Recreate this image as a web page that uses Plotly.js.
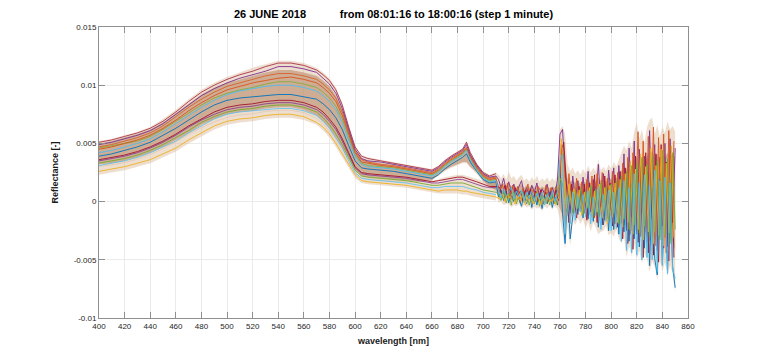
<!DOCTYPE html>
<html><head><meta charset="utf-8">
<script src="https://cdn.plot.ly/plotly-3.0.1.min.js"></script>
<style>html,body{margin:0;padding:0;background:#fff;}#chart{width:761px;height:358px;}</style>
</head><body><div id="chart"></div>
<script>
// wavelength grids [nm]
const wlSmooth = [400,410,420,430,440,450,460,470,480,490,500,510,520,530,540,550,560,570,575,580,585,590,595,600,605,610,620,630,640,650,660,665,670,675,680,684,687,690,695,700,705,710];
const wlNoisy = [712,714,716,718,720,722,724,726,728,730,732,734,736,738,740,742,744,746,748,750,752,754,756,758,760,762,764,766,768,770,772,774,776,778,780,782,784,786,788,790,792,794,796,798,800,802,804,806,808,810,812,814,816,818,820,822,824,826,828,830,832,834,836,838,840,842,844,846,848,850];
const wlNoisyOdd = [713,715,717,719,721,723,725,727,729,731,733,735,737,739,741,743,745,747,749,751,753,755,757,759,761,763,765,767,769,771,773,775,777,779,781,783,785,787,789,791,793,795,797,799,801,803,805,807,809,811,813,815,817,819,821,823,825,827,829,831,833,835,837,839,841,843,845,847,849];

// envelope of the whole family of spectra (smooth part)
const upperSmooth = [0.0052,0.0054,0.0057,0.0060,0.0064,0.0071,0.0079,0.0088,0.0096,0.0102,0.0107,0.0111,0.0115,0.0118,0.0121,0.0121,0.0119,0.0115,0.0111,0.0106,0.0098,0.0085,0.0066,0.0048,0.0040,0.0038,0.0036,0.0034,0.0032,0.0030,0.0028,0.0031,0.0036,0.0040,0.0043,0.0046,0.0052,0.0043,0.0033,0.0026,0.0023,0.0025];
const peakGroupLower = [0.0030,0.0031,0.0033,0.0036,0.0040,0.0045,0.0051,0.0057,0.0063,0.0068,0.0072,0.0074,0.0075,0.0077,0.0078,0.0078,0.0076,0.0071,0.0066,0.0060,0.0052,0.0043,0.0033,0.0024,0.0020,0.0019,0.0018,0.0017,0.0016,0.0017,0.0019,0.0022,0.0026,0.0029,0.0031,0.0033,0.0033,0.0029,0.0024,0.0017,0.0012,0.0009];
const lowGroupUpper = [0.0031,0.0032,0.0034,0.0037,0.0041,0.0046,0.0052,0.0058,0.0064,0.0069,0.0073,0.0075,0.0076,0.0078,0.0079,0.0079,0.0077,0.0072,0.0067,0.0061,0.0053,0.0044,0.0034,0.0025,0.0021,0.0021,0.0020,0.0020,0.0019,0.0018,0.0018,0.0019,0.0021,0.0022,0.0023,0.0023,0.0022,0.0021,0.0019,0.0018,0.0017,0.0017];
const lowerSmooth = [0.0023,0.0025,0.0027,0.0030,0.0033,0.0038,0.0043,0.0050,0.0056,0.0062,0.0066,0.0068,0.0069,0.0071,0.0072,0.0072,0.0070,0.0066,0.0061,0.0055,0.0047,0.0038,0.0029,0.0020,0.0016,0.0015,0.0014,0.0013,0.0012,0.0010,0.0008,0.0007,0.0007,0.0007,0.0007,0.0006,0.0006,0.0005,0.0004,0.0003,0.0002,0.0001];
const coreUpperSmooth = [0.0050,0.0052,0.0055,0.0058,0.0062,0.0068,0.0076,0.0084,0.0092,0.0098,0.0102,0.0105,0.0108,0.0111,0.0113,0.0113,0.0111,0.0108,0.0104,0.0099,0.0091,0.0079,0.0062,0.0045,0.0037,0.0035,0.0033,0.0031,0.0029,0.0027,0.0025,0.0028,0.0033,0.0037,0.0040,0.0043,0.0046,0.0040,0.0031,0.0024,0.0021,0.0022];
const coreLowerSmooth = [0.0032,0.0033,0.0035,0.0038,0.0042,0.0047,0.0053,0.0059,0.0066,0.0071,0.0075,0.0077,0.0078,0.0080,0.0081,0.0081,0.0079,0.0074,0.0069,0.0063,0.0055,0.0046,0.0036,0.0027,0.0022,0.0021,0.0020,0.0019,0.0018,0.0017,0.0018,0.0023,0.0027,0.0030,0.0032,0.0034,0.0034,0.0030,0.0025,0.0018,0.0013,0.0010];

// envelope of the noisy part (>710 nm)
const upperNoisy = [2.3e-3,2.0e-3,2.4e-3,1.9e-3,2.6e-3,2.0e-3,2.2e-3,1.8e-3,2.1e-3,2.3e-3, 1.8e-3,2.0e-3,1.7e-3,2.1e-3,1.8e-3,2.2e-3,1.7e-3,2.0e-3,1.8e-3,2.1e-3, 1.7e-3,2.0e-3,1.8e-3,2.2e-3,6.2e-3,6.5e-3,5.8e-3,3.2e-3,2.6e-3,2.9e-3, 2.4e-3,2.7e-3,2.3e-3,2.8e-3,2.4e-3,3.1e-3,2.5e-3,2.9e-3,2.6e-3,3.6e-3, 2.7e-3,3.0e-3,2.6e-3,3.2e-3,2.8e-3,3.4e-3,3.0e-3,3.6e-3,4.2e-3,4.8e-3, 4.4e-3,5.2e-3,4.6e-3,6.0e-3,6.8e-3,5.4e-3,6.2e-3,5.0e-3,6.4e-3,7.0e-3, 7.2e-3,5.8e-3,6.6e-3,5.6e-3,6.4e-3,5.9e-3,6.9e-3,6.2e-3,6.5e-3,6.0e-3];
const lowerNoisy = [-0.1e-3,0,-0.3e-3,-0.2e-3,-0.2e-3,-0.5e-3,-0.3e-3,-0.4e-3,-0.2e-3,-0.6e-3, -0.3e-3,-0.5e-3,-0.4e-3,-0.7e-3,-0.4e-3,-0.6e-3,-0.5e-3,-0.8e-3,-0.4e-3,-0.6e-3, -0.3e-3,-0.7e-3,-0.4e-3,-0.6e-3,-1.5e-3,-2.6e-3,-4.0e-3,-2.2e-3,-3.8e-3,-1.6e-3, -2.0e-3,-1.4e-3,-1.9e-3,-1.5e-3,-2.3e-3,-1.7e-3,-2.6e-3,-1.8e-3,-2.2e-3,-2.8e-3, -2.6e-3,-2.5e-3,-2.1e-3,-2.9e-3,-2.7e-3,-3.0e-3,-2.4e-3,-3.2e-3,-3.6e-3,-3.0e-3, -4.8e-3,-3.8e-3,-4.7e-3,-3.6e-3,-4.9e-3,-4.2e-3,-5.3e-3,-4.4e-3,-5.0e-3,-6.0e-3, -5.1e-3,-5.6e-3,-6.7e-3,-5.0e-3,-6.0e-3,-5.2e-3,-6.4e-3,-5.5e-3,-6.2e-3,-7.8e-3];
const coreUpperNoisy = [1.5e-3,1.3e-3,1.6e-3,1.3e-3,1.6e-3,1.3e-3,1.5e-3,1.2e-3,1.4e-3,1.5e-3, 1.2e-3,1.4e-3,1.2e-3,1.4e-3,1.2e-3,1.4e-3,1.1e-3,1.3e-3,1.2e-3,1.4e-3, 1.1e-3,1.3e-3,1.2e-3,1.5e-3,4.0e-3,4.5e-3,3.2e-3,1.9e-3,1.7e-3,1.8e-3, 1.6e-3,1.8e-3,1.5e-3,1.8e-3,1.6e-3,1.9e-3,1.6e-3,1.9e-3,1.7e-3,2.1e-3, 1.8e-3,2.0e-3,1.7e-3,2.1e-3,1.9e-3,2.2e-3,2.0e-3,2.3e-3,2.6e-3,2.9e-3, 2.8e-3,3.2e-3,3.0e-3,3.6e-3,3.9e-3,3.4e-3,3.8e-3,3.3e-3,3.9e-3,4.2e-3, 4.3e-3,3.7e-3,4.1e-3,3.6e-3,4.0e-3,3.8e-3,4.2e-3,3.9e-3,4.0e-3,3.8e-3];
const coreLowerNoisy = [0.3e-3,0.4e-3,0.2e-3,0.4e-3,0.2e-3,0.1e-3,0.3e-3,0.1e-3,0.2e-3,0, 0.2e-3,0,0.2e-3,-0.1e-3,0.1e-3,-0.1e-3,0.1e-3,-0.2e-3,0,-0.1e-3, 0.1e-3,-0.2e-3,0,-0.1e-3,-0.6e-3,-1.2e-3,-2.0e-3,-1.2e-3,-1.6e-3,-0.8e-3, -1.0e-3,-0.7e-3,-0.9e-3,-0.8e-3,-1.1e-3,-0.9e-3,-1.3e-3,-1.0e-3,-1.1e-3,-1.4e-3, -1.1e-3,-1.3e-3,-1.1e-3,-1.5e-3,-1.2e-3,-1.6e-3,-1.3e-3,-1.7e-3,-1.9e-3,-1.7e-3, -2.6e-3,-2.1e-3,-2.6e-3,-2.1e-3,-2.8e-3,-2.4e-3,-3.0e-3,-2.5e-3,-2.9e-3,-3.4e-3, -3.0e-3,-3.2e-3,-3.7e-3,-3.0e-3,-3.4e-3,-3.0e-3,-3.6e-3,-3.2e-3,-3.5e-3,-4.2e-3];

// representative individual spectra (smooth part)
const specA_s = [0.0049,0.0051,0.0054,0.0057,0.0061,0.0067,0.0075,0.0083,0.0091,0.0097,0.0102,0.0106,0.0109,0.0112,0.0116,0.0116,0.0114,0.0111,0.0106,0.0101,0.0093,0.0080,0.0062,0.0045,0.0037,0.0035,0.0034,0.0032,0.0030,0.0028,0.0026,0.0029,0.0034,0.0038,0.0041,0.0044,0.0049,0.0040,0.0031,0.0024,0.0021,0.0022];
const specB_s = [0.0045,0.0047,0.0050,0.0053,0.0057,0.0063,0.0070,0.0078,0.0085,0.0091,0.0096,0.0099,0.0102,0.0104,0.0106,0.0107,0.0105,0.0102,0.0098,0.0093,0.0086,0.0074,0.0058,0.0042,0.0034,0.0033,0.0031,0.0030,0.0028,0.0026,0.0024,0.0027,0.0032,0.0036,0.0039,0.0042,0.0046,0.0038,0.0029,0.0022,0.0019,0.0020];
const specC_s = [0.0039,0.0041,0.0044,0.0047,0.0051,0.0057,0.0063,0.0070,0.0077,0.0083,0.0087,0.0089,0.0090,0.0091,0.0092,0.0092,0.0090,0.0088,0.0084,0.0079,0.0072,0.0062,0.0048,0.0035,0.0029,0.0028,0.0027,0.0026,0.0024,0.0022,0.0020,0.0023,0.0028,0.0032,0.0035,0.0038,0.0041,0.0034,0.0026,0.0019,0.0016,0.0017];
const specD_s = [0.0036,0.0038,0.0040,0.0043,0.0047,0.0052,0.0058,0.0065,0.0071,0.0077,0.0081,0.0083,0.0084,0.0086,0.0087,0.0087,0.0085,0.0081,0.0077,0.0071,0.0064,0.0054,0.0042,0.0030,0.0025,0.0024,0.0023,0.0022,0.0021,0.0019,0.0017,0.0018,0.0019,0.0020,0.0021,0.0021,0.0020,0.0019,0.0017,0.0015,0.0013,0.0013];
const specE_s = [0.0033,0.0035,0.0037,0.0040,0.0044,0.0049,0.0055,0.0061,0.0068,0.0073,0.0077,0.0079,0.0080,0.0082,0.0083,0.0083,0.0081,0.0077,0.0072,0.0066,0.0058,0.0049,0.0038,0.0027,0.0022,0.0021,0.0020,0.0019,0.0018,0.0016,0.0014,0.0014,0.0015,0.0016,0.0016,0.0016,0.0015,0.0014,0.0012,0.0010,0.0009,0.0008];
const specF_s = [0.0026,0.0028,0.0030,0.0033,0.0036,0.0041,0.0046,0.0053,0.0059,0.0065,0.0069,0.0071,0.0072,0.0074,0.0075,0.0075,0.0073,0.0068,0.0064,0.0058,0.0050,0.0041,0.0032,0.0023,0.0018,0.0017,0.0016,0.0015,0.0014,0.0012,0.0010,0.0009,0.0010,0.0010,0.0010,0.0009,0.0009,0.0008,0.0007,0.0006,0.0005,0.0004];
const specG_s = [0.0042,0.0044,0.0047,0.0050,0.0054,0.0060,0.0067,0.0074,0.0081,0.0087,0.0092,0.0095,0.0097,0.0099,0.0100,0.0100,0.0098,0.0095,0.0091,0.0086,0.0079,0.0068,0.0053,0.0039,0.0032,0.0030,0.0029,0.0028,0.0026,0.0024,0.0022,0.0025,0.0030,0.0034,0.0037,0.0040,0.0044,0.0036,0.0027,0.0020,0.0017,0.0018];
// more spectra, visible only up to 710 nm
const specH_s = [0.0047,0.0049,0.0052,0.0055,0.0059,0.0065,0.0073,0.0081,0.0088,0.0094,0.0099,0.0102,0.0105,0.0108,0.0110,0.0110,0.0108,0.0105,0.0101,0.0096,0.0089,0.0077,0.0060,0.0043,0.0036,0.0034,0.0032,0.0031,0.0029,0.0027,0.0025,0.0028,0.0033,0.0037,0.0040,0.0043,0.0047,0.0039,0.0030,0.0023,0.0020,0.0021];
const specI_s = [0.0046,0.0048,0.0050,0.0052,0.0056,0.0062,0.0069,0.0076,0.0083,0.0089,0.0093,0.0096,0.0098,0.0101,0.0103,0.0103,0.0101,0.0098,0.0094,0.0089,0.0082,0.0071,0.0055,0.0040,0.0033,0.0031,0.0030,0.0029,0.0027,0.0025,0.0023,0.0026,0.0031,0.0035,0.0038,0.0041,0.0045,0.0037,0.0028,0.0021,0.0018,0.0019];
const specJ_s = [0.0035,0.0037,0.0039,0.0042,0.0046,0.0051,0.0057,0.0064,0.0070,0.0075,0.0079,0.0081,0.0082,0.0084,0.0085,0.0085,0.0083,0.0079,0.0075,0.0069,0.0062,0.0052,0.0040,0.0029,0.0024,0.0023,0.0022,0.0021,0.0020,0.0018,0.0016,0.0016,0.0017,0.0018,0.0019,0.0019,0.0018,0.0017,0.0015,0.0013,0.0012,0.0012];
const specK_s = [0.0031,0.0033,0.0035,0.0038,0.0042,0.0047,0.0052,0.0059,0.0065,0.0071,0.0075,0.0077,0.0078,0.0079,0.0080,0.0080,0.0078,0.0074,0.0069,0.0063,0.0055,0.0046,0.0035,0.0025,0.0020,0.0019,0.0018,0.0017,0.0016,0.0014,0.0012,0.0012,0.0013,0.0013,0.0013,0.0013,0.0012,0.0011,0.0010,0.0008,0.0007,0.0006];
const specL_s = [0.0051,0.0053,0.0056,0.0059,0.0063,0.0069,0.0077,0.0086,0.0094,0.0100,0.0105,0.0109,0.0112,0.0116,0.0119,0.0119,0.0117,0.0113,0.0109,0.0104,0.0096,0.0083,0.0064,0.0047,0.0039,0.0037,0.0035,0.0033,0.0031,0.0029,0.0027,0.0030,0.0035,0.0039,0.0042,0.0045,0.0051,0.0042,0.0032,0.0025,0.0022,0.0024];

// noisy part of the spectra A..G (A, C, E, G on even nm; B, D, F on odd nm)
const specA_n = [1.9e-3,1.2e-3,2.0e-3,1.0e-3,1.7e-3,0.9e-3,1.5e-3,0.6e-3,1.3e-3,1.8e-3, 0.7e-3,1.2e-3,0.5e-3,1.4e-3,0.8e-3,1.6e-3,0.4e-3,1.1e-3,0.7e-3,1.5e-3, 0.3e-3,1.2e-3,0.6e-3,1.8e-3,5.8e-3,6.2e-3,2.5e-3,0.8e-3,-1.0e-3,2.2e-3, 0.1e-3,1.8e-3,-0.6e-3,2.1e-3,0.3e-3,2.6e-3,-0.9e-3,1.9e-3,0.2e-3,3.2e-3, -0.4e-3,2.4e-3,-1.2e-3,2.7e-3,0.5e-3,2.9e-3,-1.0e-3,3.1e-3,-0.8e-3,4.1e-3, -2.5e-3,4.6e-3,-1.3e-3,5.2e-3,-2.8e-3,4.5e-3,-1.0e-3,3.9e-3,-3.5e-3,6.1e-3, -0.8e-3,4.9e-3,-4.2e-3,3.8e-3,-2.1e-3,5.0e-3,-3.9e-3,5.4e-3,-1.8e-3,4.6e-3];
const specB_n = [0.8e-3,1.5e-3,0.4e-3,1.6e-3,0.2e-3,1.4e-3,0.5e-3,1.3e-3,-0.1e-3,1.1e-3, 0.6e-3,1.5e-3,0,1.0e-3,0.4e-3,1.3e-3,0.9e-3,-0.2e-3,1.4e-3,0.3e-3, 1.2e-3,-0.1e-3,1.3e-3,0.4e-3,4.9e-3,3.8e-3,-1.5e-3,2.4e-3,0.4e-3,-0.5e-3, 2.0e-3,-0.3e-3,1.7e-3,-1.0e-3,1.9e-3,-0.2e-3,2.2e-3,-1.4e-3,2.4e-3,-0.5e-3, 2.5e-3,-1.6e-3,2.0e-3,-0.7e-3,2.6e-3,-1.9e-3,2.5e-3,-1.2e-3,3.3e-3,-2.0e-3, 3.8e-3,-2.8e-3,4.2e-3,-0.9e-3,6.0e-3,-3.0e-3,5.2e-3,-2.2e-3,5.6e-3,-1.5e-3, 6.4e-3,-3.8e-3,5.5e-3,-2.4e-3,5.8e-3,-4.4e-3,6.1e-3,-2.8e-3,5.2e-3];
const specC_n = [0.4e-3,1.0e-3,0.1e-3,0.9e-3,-0.1e-3,0.7e-3,0,1.0e-3,0.2e-3,-0.4e-3, 0.8e-3,-0.2e-3,0.9e-3,-0.5e-3,0.6e-3,-0.3e-3,0.7e-3,-0.6e-3,0.5e-3,-0.2e-3, 0.8e-3,-0.5e-3,0.4e-3,-0.3e-3,3.0e-3,-1.0e-3,-3.6e-3,0.9e-3,-3.2e-3,-1.2e-3, 0.6e-3,-1.1e-3,0.9e-3,-1.4e-3,0.7e-3,-1.5e-3,1.2e-3,-1.7e-3,0.8e-3,-2.2e-3, 1.0e-3,-2.0e-3,0.6e-3,-2.5e-3,1.1e-3,-2.4e-3,0.9e-3,-2.8e-3,1.6e-3,-2.6e-3, 2.0e-3,-3.4e-3,1.5e-3,-3.2e-3,2.8e-3,-3.9e-3,1.9e-3,-4.0e-3,2.6e-3,-5.5e-3, 1.2e-3,-4.9e-3,-6.3e-3,2.0e-3,-5.4e-3,1.4e-3,-5.9e-3,0.9e-3,-5.6e-3,-7.4e-3];
const specD_n = [1.2e-3,0.5e-3,1.4e-3,0.3e-3,1.1e-3,0.2e-3,1.2e-3,0.4e-3,0.9e-3,0.1e-3, 1.0e-3,0.3e-3,1.1e-3,0.2e-3,0.9e-3,0,1.0e-3,0.3e-3,0.8e-3,0, 0.9e-3,0.2e-3,1.0e-3,0.1e-3,4.4e-3,5.1e-3,1.2e-3,-1.8e-3,1.5e-3,0.4e-3, -1.4e-3,1.3e-3,-0.8e-3,1.5e-3,-1.6e-3,1.6e-3,-0.9e-3,2.3e-3,-1.8e-3,1.4e-3, -2.0e-3,2.2e-3,-1.5e-3,1.6e-3,-2.1e-3,2.3e-3,-2.2e-3,2.6e-3,-3.2e-3,2.9e-3, -3.6e-3,2.8e-3,-4.1e-3,3.9e-3,-3.5e-3,3.0e-3,-4.8e-3,4.2e-3,-4.4e-3,3.6e-3, -4.6e-3,4.1e-3,-5.2e-3,4.9e-3,-4.0e-3,3.4e-3,-5.1e-3,4.0e-3,-4.8e-3];
const specE_n = [0.6e-3,0.1e-3,0.9e-3,-0.1e-3,0.7e-3,-0.3e-3,0.8e-3,-0.2e-3,0.6e-3,0.9e-3, -0.1e-3,0.7e-3,-0.3e-3,0.6e-3,-0.2e-3,0.8e-3,-0.4e-3,0.5e-3,-0.1e-3,0.7e-3, -0.3e-3,0.6e-3,-0.2e-3,0.8e-3,2.0e-3,1.5e-3,0.2e-3,-0.9e-3,0.9e-3,-1.0e-3, 1.0e-3,-0.6e-3,1.2e-3,-1.1e-3,0.9e-3,-0.6e-3,1.4e-3,-1.0e-3,1.1e-3,-1.3e-3, 1.6e-3,-0.8e-3,1.3e-3,-1.6e-3,1.5e-3,-1.0e-3,1.8e-3,-1.9e-3,2.2e-3,-1.5e-3, 2.6e-3,-2.4e-3,3.1e-3,-2.0e-3,3.3e-3,-2.7e-3,3.8e-3,-2.1e-3,3.2e-3,-3.0e-3, 4.0e-3,-2.6e-3,3.5e-3,-3.3e-3,4.4e-3,-2.9e-3,3.7e-3,-3.6e-3,4.2e-3,-2.4e-3];
const specF_n = [0.2e-3,0.7e-3,0,0.6e-3,0.3e-3,0.8e-3,-0.2e-3,0.5e-3,0.1e-3,0.7e-3, -0.3e-3,0.4e-3,0.6e-3,-0.2e-3,0.3e-3,0.5e-3,-0.3e-3,0.4e-3,-0.2e-3,0.5e-3, 0,0.3e-3,-0.3e-3,0.4e-3,5.4e-3,2.6e-3,-0.6e-3,1.5e-3,-0.5e-3,1.1e-3, -0.7e-3,1.0e-3,-1.2e-3,0.8e-3,-0.5e-3,1.2e-3,-1.4e-3,0.9e-3,-0.9e-3,1.5e-3, -1.4e-3,1.2e-3,-1.9e-3,1.4e-3,-1.3e-3,1.6e-3,-1.8e-3,1.9e-3,-2.2e-3,2.4e-3, -1.8e-3,3.5e-3,-2.8e-3,2.8e-3,-2.4e-3,4.1e-3,-3.3e-3,3.0e-3,-2.6e-3,4.6e-3, -3.6e-3,3.1e-3,-2.9e-3,4.5e-3,-3.8e-3,3.3e-3,-2.7e-3,4.8e-3,-3.1e-3];
const specG_n = [1.0e-3,0.3e-3,1.1e-3,0.5e-3,0.8e-3,1.2e-3,0.2e-3,0.9e-3,0.4e-3,1.0e-3, 0.1e-3,0.8e-3,0.3e-3,0.9e-3,0,0.7e-3,0.2e-3,0.8e-3,-0.3e-3,0.6e-3, 0.2e-3,0.9e-3,0,0.6e-3,3.6e-3,4.1e-3,-2.8e-3,0.4e-3,-1.9e-3,0.8e-3, -1.6e-3,0.5e-3,-0.9e-3,0.6e-3,-1.3e-3,0.9e-3,-1.9e-3,0.4e-3,-1.2e-3,1.3e-3, -2.4e-3,0.6e-3,-1.7e-3,1.0e-3,-2.5e-3,0.8e-3,-2.3e-3,1.2e-3,-3.4e-3,1.8e-3, -4.2e-3,1.2e-3,-4.4e-3,2.4e-3,-4.6e-3,1.6e-3,-5.0e-3,2.3e-3,-4.8e-3,1.4e-3, -5.0e-3,2.7e-3,-6.0e-3,1.8e-3,-5.5e-3,2.1e-3,-6.2e-3,1.6e-3,-5.8e-3,-6.6e-3];

const yTickVals = [-0.01,-0.005,0,0.005,0.01,0.015];
const yTickText = ['-0.01','-0.005','0','0.005','0.01','0.015'];
const xTickVals = [400,420,440,460,480,500,520,540,560,580,600,620,640,660,680,700,720,740,760,780,800,820,840,860];

const wlEven = wlSmooth.concat(wlNoisy);
const wlOdd = wlSmooth.concat(wlNoisyOdd);
const pale = 'rgba(222,190,162,0.5)';
const core = 'rgba(176,124,88,0.5)';
const noLine = {width: 0, color: 'rgba(0,0,0,0)'};

const traces = [];
// band of the upper (fluorescing) group + noisy part
traces.push({x: wlEven, y: upperSmooth.concat(upperNoisy), mode: 'lines', line: noLine, hoverinfo: 'skip'});
traces.push({x: wlEven, y: peakGroupLower.concat(lowerNoisy), mode: 'lines', line: noLine, fill: 'tonexty', fillcolor: pale, hoverinfo: 'skip'});
// band of the lower group
traces.push({x: wlSmooth, y: lowGroupUpper, mode: 'lines', line: noLine, hoverinfo: 'skip'});
traces.push({x: wlSmooth, y: lowerSmooth, mode: 'lines', line: noLine, fill: 'tonexty', fillcolor: pale, hoverinfo: 'skip'});
// dense core
traces.push({x: wlEven, y: coreUpperSmooth.concat(coreUpperNoisy), mode: 'lines', line: noLine, hoverinfo: 'skip'});
traces.push({x: wlEven, y: coreLowerSmooth.concat(coreLowerNoisy), mode: 'lines', line: noLine, fill: 'tonexty', fillcolor: core, hoverinfo: 'skip'});

// extra spectra (smooth part only)
const extra = [[specH_s,'#D95319'],[specI_s,'#77AC30'],[specJ_s,'#7E2F8E'],[specK_s,'#4DBEEE'],[specL_s,'#A2142F']];
extra.forEach(function (e) {
  traces.push({x: wlSmooth, y: e[0], mode: 'lines', line: {width: 0.9, color: e[1]}, opacity: 0.85, hoverinfo: 'skip'});
});
// main spectra
const spectra = [
  [wlEven, specA_s, specA_n, '#7E2F8E'],
  [wlOdd,  specB_s, specB_n, '#D95319'],
  [wlEven, specC_s, specC_n, '#0072BD'],
  [wlOdd,  specD_s, specD_n, '#A2142F'],
  [wlEven, specE_s, specE_n, '#77AC30'],
  [wlOdd,  specF_s, specF_n, '#EDB120'],
  [wlEven, specG_s, specG_n, '#4DBEEE']
];
spectra.forEach(function (s) {
  traces.push({x: s[0], y: s[1].concat(s[2]), mode: 'lines', line: {width: 1, color: s[3]}, opacity: 0.9, hoverinfo: 'skip'});
});

const FONT = 'Liberation Sans, Arial, Helvetica, sans-serif';
const axisCommon = {
  showline: true, linecolor: '#8f8f8f', linewidth: 1, mirror: 'ticks',
  ticks: 'inside', ticklen: 6, tickwidth: 1, tickcolor: '#8f8f8f',
  showgrid: true, gridcolor: '#ebebeb', gridwidth: 1, zeroline: false,
  tickfont: {family: FONT, size: 8, color: '#262626'}, fixedrange: true
};
const layout = {
  width: 761, height: 358,
  margin: {l: 99, r: 73, t: 27, b: 40, pad: 0},
  paper_bgcolor: '#ffffff', plot_bgcolor: '#ffffff',
  showlegend: false, hovermode: false,
  font: {family: FONT},
  title: {text: '<b>26 JUNE 2018' + '\u00A0'.repeat(11) + 'from 08:01:16 to 18:00:16 (step 1 minute)</b>',
    font: {family: FONT, size: 11, color: '#000'}, x: 0.5, xref: 'paper', xanchor: 'center',
    y: 1 - 14/358, yref: 'container', yanchor: 'middle'},
  xaxis: Object.assign({}, axisCommon, {range: [400, 860], tickmode: 'array', tickvals: xTickVals,
    title: {text: '<b>wavelength [nm]</b>', font: {family: FONT, size: 9, color: '#1a1a1a'}, standoff: 8}}),
  yaxis: Object.assign({}, axisCommon, {range: [-0.01, 0.015], tickmode: 'array', tickvals: yTickVals, ticktext: yTickText,
    title: {text: '<b>Reflectance [-]</b>', font: {family: FONT, size: 9, color: '#1a1a1a'}, standoff: 13}})
};
Plotly.newPlot('chart', traces, layout, {staticPlot: true, displayModeBar: false});
</script>
</body></html>
